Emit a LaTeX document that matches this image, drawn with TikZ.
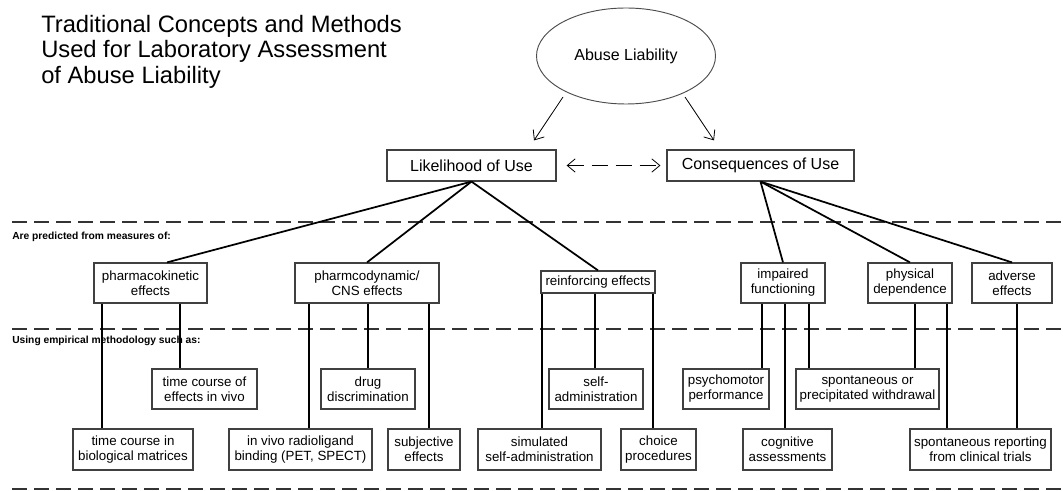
\documentclass[tikz,border=0pt]{standalone}
\usepackage{fontspec}
\setmainfont{Liberation Sans}
\usetikzlibrary{shapes.geometric,arrows.meta}

\tikzset{
  bx/.style={draw=black!75, line width=0.9pt, inner sep=0pt, align=center, font=\fontsize{10}{11.25}\selectfont},
  bigbx/.style={bx, font=\fontsize{12}{14}\selectfont},
  sz/.style 2 args={minimum width=#1*0.75pt, minimum height=#2*0.75pt},
  link/.style={line width=1.3pt},
  sep/.style={line width=1pt, black!80, dash pattern=on 11.25pt off 5.25pt},
  arr/.style={line width=0.6pt},
  lbl/.style={anchor=base west, inner sep=0pt, font=\fontsize{7.7}{9}\selectfont\bfseries}
}

\begin{document}
\begin{tikzpicture}[x=0.75pt, y=-0.75pt, >={Straight Barb[length=6pt,width=10pt]}]
    \pgfmathsetmacro{\rowtwo}{283}
    \pgfmathsetmacro{\rowthree}{389}
    \pgfmathsetmacro{\rowfour}{449.5}
    \useasboundingbox (0,0) rectangle (1063,491);
    % title and top of the tree
    \node[anchor=north west, inner sep=0pt, align=left, font=\fontsize{17.8}{19}\selectfont] (title) at (41,15)
    {Traditional Concepts and Methods\\Used for Laboratory Assessment\\of Abuse Liability};
    \node[ellipse, draw=black!70, line width=0.7pt, inner sep=0pt, sz={179}{96}, font=\fontsize{12}{14}\selectfont] (al) at (626,56) {Abuse Liability};
    \node[bigbx, sz={169}{31}] (lik) at (471.5,165.5) {Likelihood of Use};
    \node[bigbx, sz={187}{31}] (con) at (760.5,165.5) {Consequences of Use};
    \draw[arr,->] ([shift={(-63,41)}]al.center) -- ([shift={(62.5,-9)}]lik.north);
    \draw[arr,->] ([shift={(59,41)}]al.center) -- ([shift={(-46.5,-9)}]con.north);
    \draw[arr,<->, dash pattern=on 12pt off 6pt, shorten <=7.5pt, shorten >=4.5pt] (lik) -- (con);
    % separators
    \draw[sep] (12,222) -- (1063,222);
    \draw[sep] (12,329) -- (1063,329);
    \draw[sep] (12,489) -- (1063,489);
    \node[lbl] (pred) at (12,240) {Are predicted from measures of:};
    \node[lbl] (using) at (12,344) {Using empirical methodology such as:};
    % measures
    \node[bx, sz={113}{40}] (pk) at (150.5,\rowtwo) {pharmacokinetic\\effects};
    \node[bx, sz={144}{40}] (pd) at (367,\rowtwo) {pharmcodynamic/\\CNS effects};
    \node[bx, sz={114}{22}] (rf) at (598,282) {reinforcing effects};
    \node[bx, sz={84}{40}] (imp) at (783,\rowtwo) {impaired\\functioning};
    \node[bx, sz={84}{40}] (phy) at (910,\rowtwo) {physical\\dependence};
    \node[bx, sz={80}{40}] (adv) at (1012,\rowtwo) {adverse\\effects};
    \draw[link] (lik.south) -- (pk.north -| 167,0);
    \draw[link] (lik.south) -- (pd.north);
    \draw[link] (lik.south) -- (rf.north);
    \draw[link] (con.south) -- (imp.north);
    \draw[link] (con.south) -- (phy.north);
    \draw[link] (con.south) -- (adv.north);
    % methods
    \node[bx, sz={105}{40}] (tcv) at (204.5,\rowthree) {time course of\\effects in vivo};
    \node[bx, sz={94}{40}] (dd) at (368,\rowthree) {drug\\discrimination};
    \node[bx, sz={94}{40}] (sa) at (596,\rowthree) {self-\\administration};
    \node[bx, sz={86}{40}] (psy) at (726,\rowthree) {psychomotor\\performance};
    \node[bx, sz={143}{40}] (sw) at (867.5,\rowthree) {spontaneous or\\precipitated withdrawal};
    \node[bx, sz={120}{41}] (tcb) at (133,\rowfour) {time course in\\biological matrices};
    \node[bx, sz={143}{41}] (rl) at (300.5,\rowfour) {in vivo radioligand\\binding (PET, SPECT)};
    \node[bx, sz={72}{41}] (se) at (424,\rowfour) {subjective\\effects};
    \node[bx, sz={123}{41}] (ssa) at (539.5,\rowfour) {simulated\\self-administration};
    \node[bx, sz={75}{41}] (cp) at (658.5,\rowfour) {choice\\procedures};
    \node[bx, sz={89}{41}] (ca) at (787.5,\rowfour) {cognitive\\assessments};
    \node[bx, sz={141}{41}] (sr) at (980.5,\rowfour) {spontaneous reporting\\from clinical trials};
    \foreach \a/\b/\x in {pk/tcv/180, pk/tcb/102, pd/rl/309, pd/dd/368, pd/se/429,
        rf/ssa/542, rf/sa/595, rf/cp/653, imp/psy/762, imp/ca/785, imp/sw/809,
        phy/sw/915, phy/sr/947, adv/sr/1017}
        \draw[link] (\a.south -| \x,0) -- (\b.north -| \x,0);
\end{tikzpicture}
\end{document}
